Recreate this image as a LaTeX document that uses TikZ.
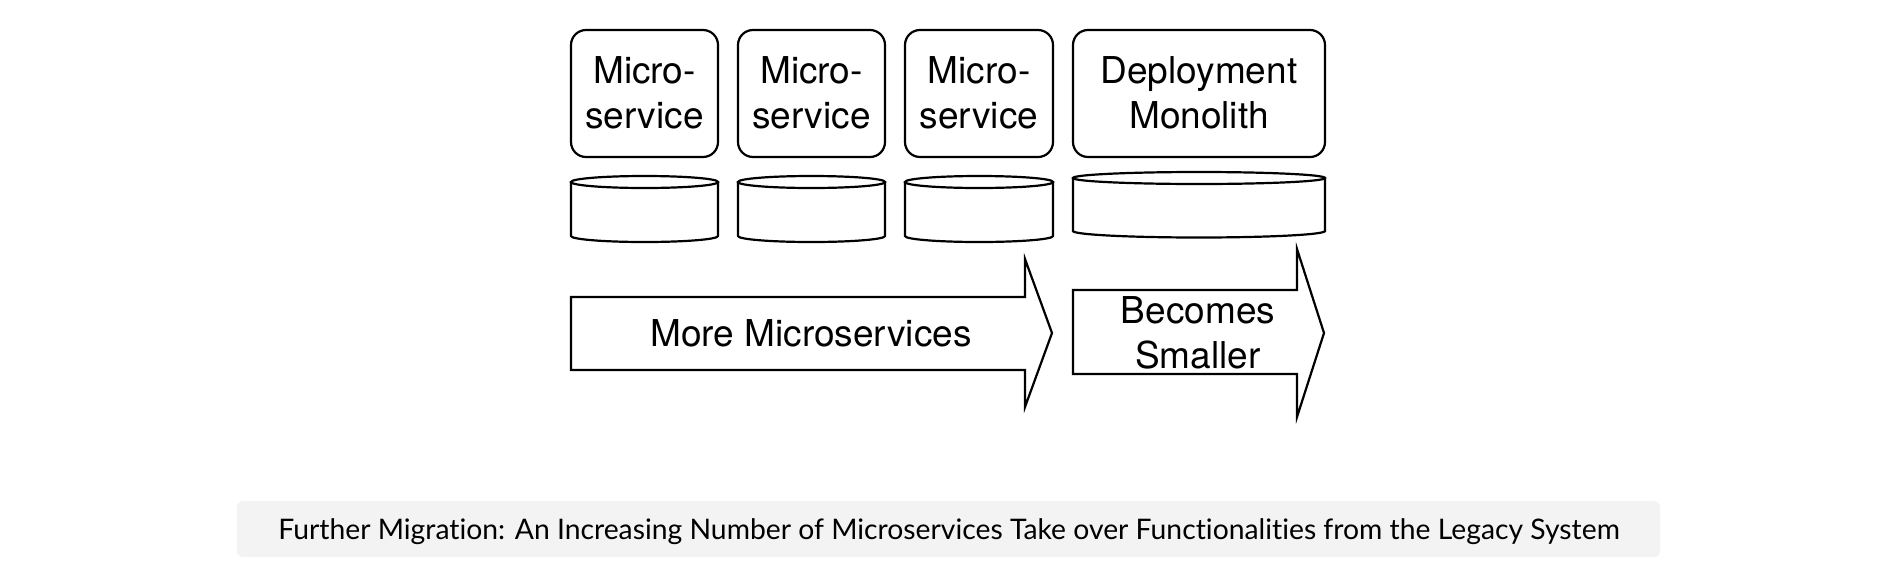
\documentclass[tikz,border=0pt]{standalone}
\usepackage{fontspec}
\setmainfont{TeX Gyre Heros}
\newfontfamily\captionfont[Ligatures=NoCommon]{Lato}
\usetikzlibrary{calc}
\definecolor{captiongray}{HTML}{F3F3F3}

\begin{document}
\begin{tikzpicture}[x=1pt, y=-1pt, line width=2.2pt, line join=miter,
    bigtext/.style={font=\fontsize{37}{45}\selectfont, align=center, inner sep=0pt},
    captext/.style={font=\captionfont\fontsize{28.3}{32}\selectfont, inner sep=0pt}]
    \useasboundingbox (0,0) rectangle (1888,582);

    % service boxes
    \draw[rounded corners=15pt] (571,30) rectangle (718,157);
    \draw[rounded corners=15pt] (738,30) rectangle (885,157);
    \draw[rounded corners=15pt] (905,30) rectangle (1053,157);
    \draw[rounded corners=15pt] (1073,30) rectangle (1325,157);

    \node[bigtext] (svcA) at (644.5,92.5) {Micro-\\service};
    \node[bigtext] (svcB) at (811.5,92.5) {Micro-\\service};
    \node[bigtext] (svcC) at (979,92.5) {Micro-\\service};
    \node[bigtext] (mono) at (1199,92.5) {Deployment\\Monolith};

    % databases
    \draw (571,182) -- (571,236) arc[start angle=180, end angle=360, x radius=73.5pt, y radius=6pt] -- (718,182);
    \draw (644.5,182) ellipse [x radius=73.5pt, y radius=6pt];
    \draw (738,182) -- (738,236) arc[start angle=180, end angle=360, x radius=73.5pt, y radius=6pt] -- (885,182);
    \draw (811.5,182) ellipse [x radius=73.5pt, y radius=6pt];
    \draw (905,182) -- (905,236) arc[start angle=180, end angle=360, x radius=74pt, y radius=6pt] -- (1053,182);
    \draw (979,182) ellipse [x radius=74pt, y radius=6pt];
    \draw (1073,178) -- (1073,231) arc[start angle=180, end angle=360, x radius=126pt, y radius=6.5pt] -- (1325,178);
    \draw (1199,178) ellipse [x radius=126pt, y radius=6pt];

    % arrows
    \draw (571,297) -- (1025,297) -- (1025,259) -- (1052,333) -- (1025,407)
        -- (1025,370) -- (571,370) -- cycle;
    \node[bigtext] (more) at (811,333) {More Microservices};

    \draw (1073,290) -- (1297,290) -- (1297,249) -- (1324,333) -- (1297,417)
        -- (1297,374) -- (1073,374) -- cycle;
    \node[bigtext] (smaller) at (1198,333) {Becomes\\Smaller};

    % caption
    \fill[captiongray, rounded corners=6pt] (237,501) rectangle (1660,557);
    \node[captext] (cap) at (949,532) {Further Migration: An Increasing Number of Microservices Take over Functionalities from the Legacy System};
\end{tikzpicture}
\end{document}
